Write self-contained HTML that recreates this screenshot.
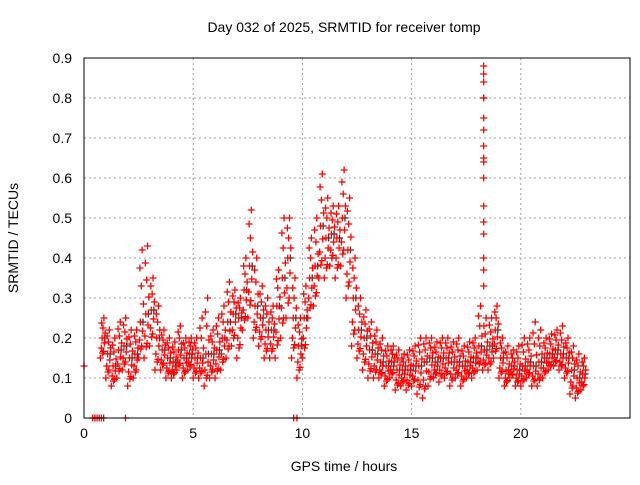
<!DOCTYPE html>
<html><head><meta charset="utf-8"><style>
body{margin:0;background:#fff}
svg text{font-family:"Liberation Sans",sans-serif;font-size:14px;fill:#000}
</style></head><body>
<svg id="chart" width="640" height="480" xmlns="http://www.w3.org/2000/svg">
<rect width="640" height="480" fill="#fff"/>
<g id="grid"></g>
<g id="marks"></g>
<rect x="84" y="58" width="546" height="360" fill="none" stroke="#000" stroke-width="1"/>
<g id="ticks"></g>
<text x="344" y="32" text-anchor="middle">Day 032 of 2025, SRMTID for receiver tomp</text>
<text x="344" y="471" text-anchor="middle">GPS time / hours</text>
<text transform="translate(18,238) rotate(-90)" text-anchor="middle">SRMTID / TECUs</text>
</svg>
<script>
const xTicks=[0,5,10,15,20];
const yTicks=[0,0.1,0.2,0.3,0.4,0.5,0.6,0.7,0.8,0.9];
const binStart=0.75, binStep=0.25;
const loVals=[.15,.10,.08,.10,.12,.08,.10,.15,.15,.18,.12,.12,.10,.10,.12,.10,.12,.10,.10,.08,.10,.10,.12,.15,.18,.15,.22,.25,.20,.18,.15,.15,.15,.20,.25,.15,.10,.15,.25,.28,.35,.35,.38,.35,.38,.30,.18,.15,.12,.10,.10,.10,.08,.10,.07,.08,.07,.08,.06,.05,.08,.10,.09,.10,.08,.10,.08,.10,.10,.12,.12,.12,.15,.10,.08,.10,.08,.08,.10,.08,.08,.10,.12,.13,.12,.10,.06,.05,.07];
const midVals=[.20,.16,.13,.17,.18,.15,.16,.24,.26,.27,.20,.17,.15,.14,.17,.15,.16,.15,.15,.16,.16,.17,.20,.24,.26,.25,.32,.38,.28,.25,.22,.22,.28,.35,.40,.25,.18,.25,.35,.38,.48,.45,.46,.45,.50,.42,.30,.22,.20,.17,.16,.14,.13,.14,.12,.12,.12,.13,.13,.14,.15,.14,.15,.15,.14,.14,.13,.14,.15,.18,.17,.18,.22,.15,.12,.13,.12,.13,.14,.13,.14,.15,.16,.17,.16,.15,.12,.10,.11];
const hiVals=[.25,.22,.20,.24,.25,.22,.22,.42,.43,.35,.28,.22,.20,.19,.23,.20,.20,.20,.25,.30,.22,.25,.28,.34,.32,.30,.40,.52,.40,.33,.30,.28,.37,.50,.50,.35,.25,.33,.45,.50,.61,.55,.53,.53,.62,.55,.40,.30,.27,.24,.22,.20,.18,.18,.17,.16,.17,.18,.20,.20,.20,.19,.20,.20,.19,.20,.18,.19,.20,.28,.25,.25,.28,.20,.18,.17,.18,.20,.20,.24,.22,.20,.21,.22,.23,.20,.18,.16,.15];
const spikeTime=18.3;
const spikeVals=[.88,.86,.84,.80,.80,.75,.72,.68,.65,.64,.60,.53,.49,.46,.40,.37,.33];
const zeroTimes=[0.4,0.5,0.6,0.7,0.8,0.9,1.9,9.6,9.75];
const x=v=>84+v*546/25, y=v=>418-v*400;
const NS="http://www.w3.org/2000/svg";
const grid=document.getElementById('grid'),ticks=document.getElementById('ticks'),marks=document.getElementById('marks');
function el(t,a,p){const e=document.createElementNS(NS,t);for(const k in a)e.setAttribute(k,a[k]);p.appendChild(e);return e;}
xTicks.forEach(v=>{
 if(v>0){const g=el('line',{x1:x(v),x2:x(v),y1:58,y2:418,stroke:'#a0a0a0','stroke-dasharray':'2,3'},grid);
 
 }
 const t=el('text',{x:x(v),y:438,'text-anchor':'middle'},ticks);t.textContent=v;
 
 
});
yTicks.forEach(v=>{
 if(v>0){const g=el('line',{x1:84,x2:630,y1:y(v),y2:y(v),stroke:'#a0a0a0','stroke-dasharray':'2,3'},grid);
 
 }
 const t=el('text',{x:72,y:y(v)+5,'text-anchor':'end'},ticks);t.textContent=v;
 
 
});
function plus(h,v,c){
 const px=x(h),py=y(v);
 const p=el('path',{d:`M${px-3.5},${py}h7M${px},${py-3.5}v7`,stroke:c,'stroke-width':1.3,fill:'none'},marks);
 
 
}
loVals.forEach((lo,i)=>{
 const t=binStart+i*binStep,m=midVals[i],hi=hiVals[i];
 plus(t+0.2,m,'#333');
 plus(t,lo,'red');plus(t+0.04,(lo+m)/2,'red');plus(t+0.08,m,'red');
 plus(t+0.12,(m+hi)/2,'red');plus(t+0.16,hi,'red');
 plus(t+0.1,(lo*3+m)/4,'red');plus(t+0.22,(m*3+hi)/4,'red');
 plus(t+0.18,(lo+m*3)/4,'red');plus(t+0.06,(m+hi*3)/4,'red');
 plus(t+0.14,(lo*2+m)/3,'red');
});
spikeVals.forEach(v=>plus(spikeTime,v,'red'));
zeroTimes.forEach(t=>plus(t,0,'red'));
plus(0,0.13,'red');
</script>
</body></html>
